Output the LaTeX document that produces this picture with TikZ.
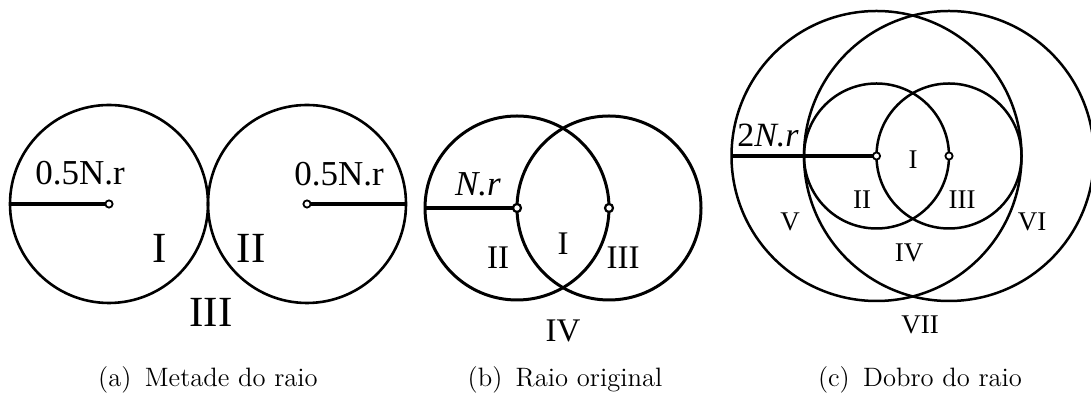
\documentclass[tikz,border=0pt]{standalone}
\usepackage{fontspec}
\newfontfamily\lblfont{Liberation Serif}
\tikzset{
  ring/.style={draw=black, line width=#1},
  spoke/.style={draw=black, line width=1.7pt},
  hub/.style={circle, draw=black, fill=white, line width=0.9pt, inner sep=0pt, minimum size=3.6pt},
  zone/.style={font=\lblfont\fontsize{#1}{#1}\selectfont, inner sep=0pt},
  subcap/.style={font=\fontsize{13.3}{15}\selectfont, inner sep=0pt},
}

\begin{document}
\begin{tikzpicture}[x=0.5pt, y=-0.5pt]
\useasboundingbox (0,0) rectangle (1091,399);
% (a) metade do raio
\coordinate (a1) at (109,204);
\coordinate (a2) at (307,204);
\coordinate (a1w) at (10,204);
\coordinate (a2e) at (406,204);
\draw[ring=1.3pt] (a1) circle[radius=99];
\draw[ring=1.3pt] (a2) circle[radius=99];
\draw[spoke] (a1w) -- (a1);
\draw[spoke] (a2) -- (a2e);
\node[hub] (ha1) at (a1) {};
\node[hub] (ha2) at (a2) {};
\node[zone=17.5] (ra1) at (80,173) {0.5N.r};
\node[zone=17.5] (ra2) at (339,174) {0.5N.r};
\node[zone=21.5] (za1) at (160,248) {I};
\node[zone=21.5] (za2) at (251,248) {II};
\node[zone=21.5] (za3) at (211,312) {III};
\node[subcap] (capa) at (208,380) {(a)\hspace{0.5em}Metade do raio};
% (b) raio original
\coordinate (b1) at (517,208);
\coordinate (b2) at (609,208);
\coordinate (b1w) at (425,208);
\draw[ring=1.5pt] (b1) circle[radius=92];
\draw[ring=1.5pt] (b2) circle[radius=92];
\draw[spoke, line width=1.8pt] (b1w) -- (b1);
\node[hub, line width=1.1pt, minimum size=4pt] (hb1) at (b1) {};
\node[hub, line width=1.1pt, minimum size=4pt] (hb2) at (b2) {};
\node[zone=17.5] (rb) at (478,184) {\itshape N.r};
\node[zone=16.5] (zb1) at (563,244) {I};
\node[zone=16.5] (zb2) at (498,258) {II};
\node[zone=16.5] (zb3) at (623,258) {III};
\node[zone=16.5] (zb4) at (563,331) {IV};
\node[subcap] (capb) at (565,380) {(b)\hspace{0.5em}Raio original};
% (c) dobro do raio
\coordinate (c1) at (876.5,156);
\coordinate (c2) at (949,156);
\coordinate (c1w) at (731.5,156);
\draw[ring=1.25pt] (c1) circle[radius=72.5];
\draw[ring=1.25pt] (c2) circle[radius=72.5];
\draw[ring=1.25pt] (c1) circle[radius=145];
\draw[ring=1.25pt] (c2) circle[radius=145];
\draw[spoke] (c1w) -- (c1);
\node[hub] (hc1) at (c1) {};
\node[hub] (hc2) at (c2) {};
\node[zone=17] (rc) at (768,135) {2\itshape N.r};
\node[zone=13.5] (zc1) at (913,160) {I};
\node[zone=13.5] (zc2) at (862,200) {II};
\node[zone=13.5] (zc3) at (962,200) {III};
\node[zone=13.5] (zc4) at (909,253) {IV};
\node[zone=13.5] (zc5) at (790,222) {V};
\node[zone=13.5] (zc6) at (1032,222) {VI};
\node[zone=13.5] (zc7) at (920,325) {VII};
\node[subcap] (capc) at (920,380) {(c)\hspace{0.5em}Dobro do raio};
\end{tikzpicture}
\end{document}
